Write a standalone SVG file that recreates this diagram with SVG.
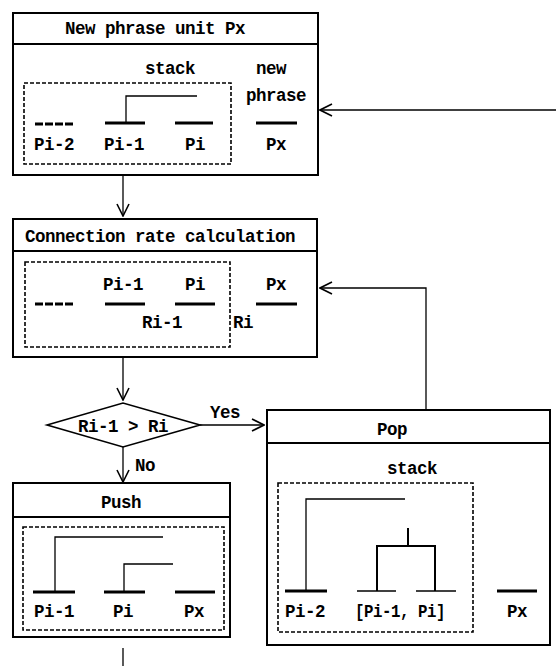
<svg xmlns="http://www.w3.org/2000/svg" width="556" height="666" viewBox="0 0 556 666">
<defs>
<marker id="arr" viewBox="0 0 14 14" refX="13" refY="7" markerWidth="14" markerHeight="14" markerUnits="userSpaceOnUse" orient="auto">
<polyline points="1,1 13,7 1,13" fill="none" stroke="#000" stroke-width="1.6"/>
</marker>
</defs>
<style>
text{font-family:"Liberation Mono","DejaVu Sans Mono",monospace;font-weight:bold;font-size:17.5px;letter-spacing:-0.5px;fill:#000}
.box{fill:#fff;stroke:#000;stroke-width:2}
.hdr{stroke:#000;stroke-width:2}
.dash{fill:none;stroke:#000;stroke-width:1.6;stroke-dasharray:4,2}
.bar{stroke:#000;stroke-width:3}
.thin{stroke:#000;stroke-width:1.6}
.tree{fill:none;stroke:#000;stroke-width:1.3}
.conn{fill:none;stroke:#000;stroke-width:1.3}
.m{text-anchor:middle}
</style>
<rect width="556" height="666" fill="#fff"/>

<g id="connectors">
<line class="conn" x1="556" y1="110" x2="320" y2="110" marker-end="url(#arr)"/>
<line class="conn" x1="123" y1="176" x2="123" y2="216" marker-end="url(#arr)"/>
<polyline class="conn" points="426,410 426,288 320,288" marker-end="url(#arr)"/>
<line class="conn" x1="123" y1="358" x2="123" y2="400" marker-end="url(#arr)"/>
<line class="conn" x1="200" y1="425" x2="264" y2="425" marker-end="url(#arr)"/>
<line class="conn" x1="123" y1="447" x2="123" y2="482" marker-end="url(#arr)"/>
<line class="conn" x1="123" y1="648" x2="123" y2="666"/>
<text x="210" y="418">Yes</text>
<text x="135" y="471">No</text>
</g>

<g id="new-phrase">
<rect class="box" x="13" y="13" width="305" height="162"/>
<line class="hdr" x1="13" y1="44" x2="318" y2="44"/>
<text class="m" x="155" y="34">New phrase unit Px</text>
<rect class="dash" x="24" y="83" width="207" height="81"/>
<text class="m" x="170" y="74">stack</text>
<text class="m" x="271" y="74">new</text>
<text class="m" x="276" y="101">phrase</text>
<line class="bar" x1="35" y1="124" x2="73" y2="124" stroke-dasharray="8,2" stroke-width="2.4"/>
<line class="bar" x1="105" y1="123" x2="145" y2="123"/>
<line class="bar" x1="175" y1="123" x2="213" y2="123"/>
<line class="bar" x1="256" y1="123" x2="297" y2="123"/>
<polyline class="tree" points="126,123 126,96 197,96"/>
<text class="m" x="54" y="150">Pi-2</text>
<text class="m" x="124" y="150">Pi-1</text>
<text class="m" x="195" y="150">Pi</text>
<text class="m" x="276" y="150">Px</text>
</g>

<g id="connection-rate">
<rect class="box" x="13" y="219" width="304" height="138"/>
<line class="hdr" x1="13" y1="251" x2="317" y2="251"/>
<text class="m" x="160" y="242">Connection rate calculation</text>
<rect class="dash" x="25" y="262" width="205" height="85"/>
<line class="bar" x1="35" y1="304" x2="73" y2="304" stroke-dasharray="8,2" stroke-width="2.4"/>
<line class="bar" x1="105" y1="304" x2="145" y2="304"/>
<line class="bar" x1="175" y1="304" x2="215" y2="304"/>
<line class="bar" x1="256" y1="304" x2="297" y2="304"/>
<text class="m" x="123" y="290">Pi-1</text>
<text class="m" x="195" y="290">Pi</text>
<text class="m" x="276" y="290">Px</text>
<text class="m" x="162" y="328">Ri-1</text>
<text x="233" y="328">Ri</text>
</g>

<g id="decision">
<polygon points="47,425 123,403 200,425 123,447" fill="#fff" stroke="#000" stroke-width="1.6"/>
<text class="m" x="123" y="432">Ri-1 &gt; Ri</text>
</g>

<g id="push">
<rect class="box" x="13" y="483" width="217" height="154"/>
<line class="hdr" x1="13" y1="517" x2="230" y2="517"/>
<text class="m" x="121" y="508">Push</text>
<rect class="dash" x="23" y="527" width="201" height="103"/>
<line class="bar" x1="33" y1="592" x2="75" y2="592"/>
<line class="bar" x1="104" y1="592" x2="145" y2="592"/>
<line class="bar" x1="175" y1="592" x2="215" y2="592"/>
<polyline class="tree" points="55,592 55,537 163,537"/>
<polyline class="tree" points="124,592 124,564 173,564"/>
<text class="m" x="54" y="617">Pi-1</text>
<text class="m" x="123" y="617">Pi</text>
<text class="m" x="194" y="617">Px</text>
</g>

<g id="pop">
<rect class="box" x="267" y="410" width="283" height="235"/>
<line class="hdr" x1="267" y1="443" x2="550" y2="443"/>
<text class="m" x="392" y="435">Pop</text>
<text class="m" x="412" y="474">stack</text>
<rect class="dash" x="278" y="483" width="195" height="149"/>
<line class="bar" x1="285" y1="591" x2="327" y2="591"/>
<line class="thin" x1="357" y1="591" x2="396" y2="591"/>
<line class="thin" x1="416" y1="591" x2="456" y2="591"/>
<line class="bar" x1="497" y1="591" x2="537" y2="591"/>
<polyline class="tree" points="306,591 306,499 405,499"/>
<polyline fill="none" stroke="#000" stroke-width="2" points="377,591 377,546 435,546 435,591"/>
<line stroke="#000" stroke-width="2" x1="408" y1="546" x2="408" y2="528"/>
<text class="m" x="305" y="617">Pi-2</text>
<text class="m" x="400" y="617" textLength="90" lengthAdjust="spacingAndGlyphs">[Pi-1, Pi]</text>
<text class="m" x="517" y="617">Px</text>
</g>
</svg>
